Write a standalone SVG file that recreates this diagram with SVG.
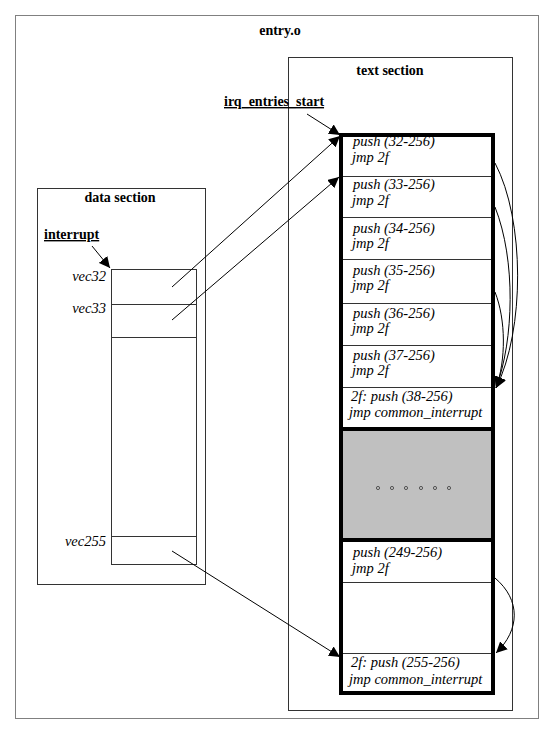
<svg xmlns="http://www.w3.org/2000/svg" width="554" height="733" viewBox="0 0 554 733">
<style>
.bold{font-family:"Liberation Serif",serif;font-weight:bold;font-size:14px;fill:#000}
.it{font-family:"Liberation Serif",serif;font-style:italic;font-size:14.5px;fill:#000}
.box{fill:none;stroke:#333;stroke-width:1}
.sep{stroke:#333;stroke-width:1}
.thick{stroke:#000;stroke-width:4;fill:none}
.conn{fill:none;stroke:#000;stroke-width:1}
.dot{fill:#c0c0c0;stroke:#555;stroke-width:1}
</style>
<defs>
<marker id="ah" viewBox="0 0 10 10" refX="10" refY="5" markerWidth="11" markerHeight="11" markerUnits="userSpaceOnUse" orient="auto">
<path d="M0,0 L10,5 L0,10 z" fill="#000"/>
</marker>
</defs>
<rect width="554" height="733" fill="#fff"/>
<g id="entry-o">
<rect x="15.5" y="15.5" width="523" height="703" fill="none" stroke="#000" stroke-width="1" stroke-dasharray="1,1"/>
<text class="bold" x="280" y="35" text-anchor="middle">entry.o</text>
</g>
<g id="text-section">
<rect class="box" x="288.5" y="57.5" width="224" height="653"/>
<text class="bold" x="390" y="75" text-anchor="middle">text section</text>
</g>
<g id="irq-entries-start">
<text class="bold" x="224" y="106" text-decoration="underline">irq_entries_start</text>
</g>
<g id="data-section">
<rect class="box" x="37.5" y="188.5" width="168" height="396"/>
<text class="bold" x="120" y="202" text-anchor="middle">data section</text>
</g>
<g id="interrupt">
<text class="bold" x="44" y="239" text-decoration="underline">interrupt</text>
</g>
<g id="vector-table">
<rect class="box" x="111.5" y="269.5" width="85" height="295"/>
<line class="sep" x1="111" y1="304.5" x2="197" y2="304.5"/>
<line class="sep" x1="111" y1="337.5" x2="197" y2="337.5"/>
<line class="sep" x1="111" y1="536.5" x2="197" y2="536.5"/>
<text class="it" x="106" y="281" text-anchor="end">vec32</text>
<text class="it" x="106" y="313" text-anchor="end">vec33</text>
<text class="it" x="106" y="546" text-anchor="end">vec255</text>
</g>
<g id="irq-entries">
<rect x="341" y="428" width="152" height="112" fill="#c0c0c0"/>
<line class="sep" x1="341" y1="176.5" x2="493" y2="176.5"/>
<line class="sep" x1="341" y1="217.5" x2="493" y2="217.5"/>
<line class="sep" x1="341" y1="259.5" x2="493" y2="259.5"/>
<line class="sep" x1="341" y1="303.5" x2="493" y2="303.5"/>
<line class="sep" x1="341" y1="345.5" x2="493" y2="345.5"/>
<line class="sep" x1="341" y1="387.5" x2="493" y2="387.5"/>
<line class="sep" x1="341" y1="582.5" x2="493" y2="582.5"/>
<line class="sep" x1="341" y1="653.5" x2="493" y2="653.5"/>
<line class="thick" x1="341" y1="429" x2="493" y2="429"/>
<line class="thick" x1="341" y1="540" x2="493" y2="540"/>
<rect class="thick" x="341" y="135" width="152" height="558"/>
<text class="it" x="353" y="146">push (32-256)</text>
<text class="it" x="352" y="162">jmp 2f</text>
<text class="it" x="353" y="189">push (33-256)</text>
<text class="it" x="352" y="205">jmp 2f</text>
<text class="it" x="353" y="233">push (34-256)</text>
<text class="it" x="352" y="248">jmp 2f</text>
<text class="it" x="353" y="275">push (35-256)</text>
<text class="it" x="352" y="290">jmp 2f</text>
<text class="it" x="353" y="318">push (36-256)</text>
<text class="it" x="352" y="333">jmp 2f</text>
<text class="it" x="353" y="360">push (37-256)</text>
<text class="it" x="352" y="375">jmp 2f</text>
<text class="it" x="351" y="401">2f: push (38-256)</text>
<text class="it" x="349" y="417">jmp common_interrupt</text>
<circle class="dot" cx="378" cy="488" r="1.6"/>
<circle class="dot" cx="392" cy="488" r="1.6"/>
<circle class="dot" cx="406" cy="488" r="1.6"/>
<circle class="dot" cx="421" cy="488" r="1.6"/>
<circle class="dot" cx="435" cy="488" r="1.6"/>
<circle class="dot" cx="449" cy="488" r="1.6"/>
<text class="it" x="353" y="557">push (249-256)</text>
<text class="it" x="352" y="573">jmp 2f</text>
<text class="it" x="351" y="667">2f: push (255-256)</text>
<text class="it" x="349" y="684">jmp common_interrupt</text>
</g>
<g id="connectors">
<line class="conn" x1="307" y1="114" x2="340" y2="135" marker-end="url(#ah)"/>
<line class="conn" x1="92" y1="246" x2="110" y2="268" marker-end="url(#ah)"/>
<line class="conn" x1="172" y1="287" x2="340" y2="136" marker-end="url(#ah)"/>
<line class="conn" x1="172" y1="320" x2="339" y2="177" marker-end="url(#ah)"/>
<line class="conn" x1="172" y1="551" x2="340" y2="657" marker-end="url(#ah)"/>
<path class="conn" d="M495,163 C525,220 525,330 496,388" marker-end="url(#ah)"/>
<path class="conn" d="M495,207 C516,260 514,340 496,388" marker-end="url(#ah)"/>
<path class="conn" d="M495,292 C506,320 506,360 496,388" marker-end="url(#ah)"/>
<path class="conn" d="M495,578 C521,600 520,630 496,653" marker-end="url(#ah)"/>
</g>
</svg>
